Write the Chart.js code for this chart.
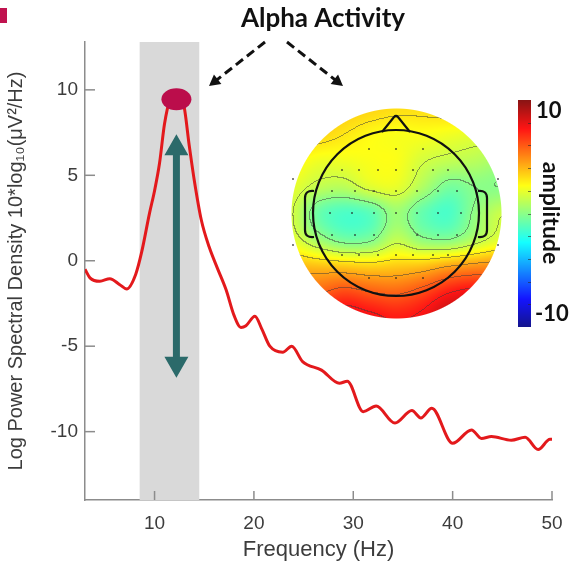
<!DOCTYPE html>
<html>
<head>
<meta charset="utf-8">
<script src="https://cdn.jsdelivr.net/npm/chart.js@4.4.0/dist/chart.umd.min.js"></script>
<style>
  html, body { margin: 0; padding: 0; background: #fff; }
  canvas { display: block; }
</style>
</head>
<body>
<canvas id="psdChart" width="572" height="563"></canvas>
<script>
// spectrum
const freqHz = [3, 3.5, 4.5, 5.5, 6.5, 7.2, 8.1, 8.7, 9.5, 10, 10.5, 11, 11.5, 12.2, 12.9, 13.5, 14, 14.7,
  15.5, 16.3, 17.2, 18.0, 18.7, 19.2, 20.1, 20.8, 21.6, 22.9, 23.8, 24.9, 26.8, 28.6, 29.4, 31.0, 32.3,
  34.2, 35.9, 36.8, 37.9, 40.0, 41.9, 42.9, 43.9, 45.9, 47.3, 48.6, 49.8, 50];
const powerDb = [-0.5, -1.0, -1.2, -1.05, -1.4, -1.65, -0.8, 0.5, 2.8, 4.1, 5.7, 8.0, 9.3, 9.6, 9.2, 6.7, 4.7, 2.4,
  0.8, -0.4, -1.7, -3.2, -3.9, -3.8, -3.25, -4.0, -5.0, -5.35, -5.0, -5.9, -6.4, -7.17, -7.05, -8.83, -8.5,
  -9.5, -8.77, -9.2, -8.63, -10.68, -9.9, -10.4, -10.29, -10.5, -10.33, -11.05, -10.45, -10.45];

const xTickLabels = [10, 20, 30, 40, 50];
const yTickLabels = [-10, -5, 0, 5, 10];

const alphaBand = [8.5, 14.5];     // Hz
const alphaPeak = [12.2, 9.45];    // Hz, dB
const alphaSpan = [7.4, -6.85];    // dB, ends of the double arrow

// scalp amplitude, 9x9 grid over the head disk, front row first
const topoGrid = [
  [3.8, 3.8, 3.6, 3.4, 3.2, 3.2, 3.4, 3.6, 3.6],
  [3.6, 3.4, 3.0, 2.6, 2.4, 2.4, 2.2, 2.0, 2.0],
  [2.8, 2.2, 2.2, 2.4, 2.4, 1.6, 1.2, 1.0, 0.6],
  [2.0, 1.2, 1.0, 1.8, 2.0, 0.8, -0.4, 0.0, 0.0],
  [1.6, -0.6, -1.3, -1.0, 0.4, -0.8, -1.3, 0.2, 1.4],
  [2.0, 0.6, -0.4, -0.2, 1.2, 0.2, 0.0, 1.0, 2.0],
  [4.0, 3.8, 3.6, 3.4, 3.6, 3.8, 4.4, 4.8, 5.0],
  [5.6, 5.8, 6.4, 6.0, 5.8, 6.4, 7.4, 7.8, 7.2],
  [7.0, 7.6, 8.2, 7.8, 7.4, 7.8, 9.0, 9.0, 8.4]
];
const colorbarRange = [-10, 10];

// electrode marks, in head radii from the centre
const electrodes = [
  [-0.33, -0.77], [0, -0.77], [0.32, -0.77],
  [-0.65, -0.52], [-0.44, -0.52], [-0.22, -0.52], [0, -0.52], [0.21, -0.52], [0.44, -0.52], [0.63, -0.52],
  [-0.77, -0.26], [-0.5, -0.26], [-0.26, -0.26], [0, -0.26], [0.25, -0.26], [0.5, -0.26], [0.74, -0.26],
  [-0.79, 0], [-0.53, 0], [-0.27, 0], [0, 0], [0.25, 0], [0.51, 0], [0.78, 0],
  [-0.77, 0.27], [-0.5, 0.27], [-0.26, 0.27], [0.25, 0.27], [0.5, 0.27], [0.74, 0.27],
  [-0.65, 0.51], [-0.44, 0.51], [-0.22, 0.51], [0, 0.51], [0.21, 0.51], [0.44, 0.51], [0.63, 0.51],
  [-0.33, 0.78], [0, 0.78], [0.32, 0.78],
  [-1.24, -0.41], [1.23, -0.41], [-1.24, 0.39], [1.23, 0.39]
];

const FONT = "'Liberation Sans', Arial, sans-serif";
const BOLD = "Lato, 'Open Sans', sans-serif";

function jet(t) {
  t = Math.max(0, Math.min(1, t));
  const ch = k => Math.max(0, Math.min(1, 1.5 - Math.abs(4 * t - k)));
  const soft = c => Math.round(c * 255 * 0.92 + 255 * 0.08);
  return [soft(ch(3)), soft(ch(2)), soft(ch(1))];
}

function catmull(p0, p1, p2, p3, t) {
  return 0.5 * (2 * p1 + (p2 - p0) * t + (2 * p0 - 5 * p1 + 4 * p2 - p3) * t * t + (3 * p1 - p0 - 3 * p2 + p3) * t * t * t);
}

function gridAt(r, c) {
  const n = topoGrid.length - 1;
  r = Math.max(0, Math.min(n, r));
  c = Math.max(0, Math.min(n, c));
  return topoGrid[r][c];
}

function sampleTopo(u, v) {
  const c = Math.floor(u), r = Math.floor(v);
  const tx = u - c, ty = v - r;
  const rows = [-1, 0, 1, 2].map(dr =>
    catmull(gridAt(r + dr, c - 1), gridAt(r + dr, c), gridAt(r + dr, c + 1), gridAt(r + dr, c + 2), tx));
  return catmull(rows[0], rows[1], rows[2], rows[3], ty);
}

function drawTopo(ctx) {
  const cx = 396, cy = 213, R = 105, headR = 83;
  const size = 2 * R + 2;
  const off = document.createElement('canvas');
  off.width = size; off.height = size;
  const octx = off.getContext('2d');
  const img = octx.createImageData(size, size);
  const n = topoGrid.length - 1;
  const vals = new Float32Array(size * size);
  for (let j = 0; j < size; j++) {
    for (let i = 0; i < size; i++) {
      const u = (i - 1) / (2 * R) * n, v = (j - 1) / (2 * R) * n;
      vals[j * size + i] = sampleTopo(u, v);
    }
  }
  const step = 1.5;
  for (let j = 0; j < size; j++) {
    for (let i = 0; i < size; i++) {
      const k = j * size + i;
      const val = vals[k];
      let [r, g, b] = jet((val - colorbarRange[0]) / (colorbarRange[1] - colorbarRange[0]));
      const lv = Math.floor(val / step);
      const edge = (i < size - 1 && Math.floor(vals[k + 1] / step) !== lv) ||
                   (j < size - 1 && Math.floor(vals[k + size] / step) !== lv);
      if (edge) { r = r * 0.5 + 30; g = g * 0.5 + 30; b = b * 0.5 + 30; }
      const d = Math.hypot(i - 1 - R, j - 1 - R);
      const a = Math.max(0, Math.min(1, R - d + 0.5));
      img.data[k * 4] = r; img.data[k * 4 + 1] = g; img.data[k * 4 + 2] = b;
      img.data[k * 4 + 3] = Math.round(a * 255);
    }
  }
  octx.putImageData(img, 0, 0);
  ctx.drawImage(off, cx - R - 1, cy - R - 1);

  ctx.save();
  ctx.strokeStyle = '#111';
  ctx.lineWidth = 2.2;
  // head
  ctx.beginPath();
  ctx.arc(cx, cy, headR, 0, Math.PI * 2);
  ctx.stroke();
  // nose
  ctx.beginPath();
  ctx.moveTo(cx - 14, cy - headR + 2);
  ctx.lineTo(cx - 2, cy - headR - 13);
  ctx.quadraticCurveTo(cx, cy - headR - 15, cx + 2, cy - headR - 13);
  ctx.lineTo(cx + 14, cy - headR + 2);
  ctx.stroke();
  // ears
  [[-1, 305], [1, 478]].forEach(([side, x0]) => {
    ctx.beginPath();
    if (side < 0) {
      ctx.moveTo(x0 + 9, 191);
      ctx.quadraticCurveTo(x0, 190, x0, 198);
      ctx.lineTo(x0, 230);
      ctx.quadraticCurveTo(x0, 238, x0 + 9, 237);
    } else {
      ctx.moveTo(x0, 191);
      ctx.quadraticCurveTo(x0 + 9, 190, x0 + 9, 198);
      ctx.lineTo(x0 + 9, 230);
      ctx.quadraticCurveTo(x0 + 9, 238, x0, 237);
    }
    ctx.stroke();
  });
  ctx.fillStyle = '#222';
  electrodes.forEach(([ex, ey]) => {
    ctx.fillRect(Math.round(cx + ex * headR) - 0.75, Math.round(cy + ey * headR) - 0.75, 1.5, 1.5);
  });
  ctx.restore();
}

function drawColorbar(ctx) {
  const x0 = 518, w = 13, top = 100, bottom = 327;
  for (let y = top; y < bottom; y++) {
    const [r, g, b] = jet(1 - (y - top) / (bottom - top));
    ctx.fillStyle = `rgb(${r},${g},${b})`;
    ctx.fillRect(x0, y, w, 1);
  }
  ctx.strokeStyle = 'rgba(40,40,40,0.6)';
  ctx.lineWidth = 1;
  for (let v = -8; v <= 8; v += 2) {
    const y = bottom - (v - colorbarRange[0]) / (colorbarRange[1] - colorbarRange[0]) * (bottom - top);
    ctx.beginPath();
    ctx.moveTo(x0 + w - 3, Math.round(y) + 0.5);
    ctx.lineTo(x0 + w, Math.round(y) + 0.5);
    ctx.stroke();
  }
  ctx.fillStyle = '#111';
  ctx.font = `bold 22px ${BOLD}`;
  ctx.textAlign = 'left';
  ctx.textBaseline = 'alphabetic';
  ctx.fillText(String(colorbarRange[1]), 536, 118);
  ctx.fillText(String(colorbarRange[0]), 535, 321);
  ctx.save();
  ctx.translate(543, 213);
  ctx.rotate(Math.PI / 2);
  ctx.font = `bold 23px ${BOLD}`;
  ctx.textAlign = 'center';
  ctx.textBaseline = 'alphabetic';
  ctx.fillText('amplitude', 0, 0);
  ctx.restore();
}

function dashedArrow(ctx, x1, y1, x2, y2) {
  const ang = Math.atan2(y2 - y1, x2 - x1);
  const head = 11;
  ctx.save();
  ctx.strokeStyle = '#111';
  ctx.fillStyle = '#111';
  ctx.lineWidth = 3;
  ctx.setLineDash([9, 5]);
  ctx.beginPath();
  ctx.moveTo(x1, y1);
  ctx.lineTo(x2 - Math.cos(ang) * head * 0.8, y2 - Math.sin(ang) * head * 0.8);
  ctx.stroke();
  ctx.setLineDash([]);
  ctx.beginPath();
  ctx.moveTo(x2, y2);
  ctx.lineTo(x2 - Math.cos(ang) * head + Math.sin(ang) * 6, y2 - Math.sin(ang) * head - Math.cos(ang) * 6);
  ctx.lineTo(x2 - Math.cos(ang) * head - Math.sin(ang) * 6, y2 - Math.sin(ang) * head + Math.cos(ang) * 6);
  ctx.closePath();
  ctx.fill();
  ctx.restore();
}

const bandPlugin = {
  id: 'alphaBand',
  beforeDatasetsDraw(chart) {
    const { ctx, chartArea, scales: { x } } = chart;
    const l = x.getPixelForValue(alphaBand[0]), r = x.getPixelForValue(alphaBand[1]);
    ctx.save();
    ctx.fillStyle = '#d9d9d9';
    ctx.fillRect(l, chartArea.top, r - l, chartArea.bottom - chartArea.top);
    ctx.restore();
  },
  afterDatasetsDraw(chart) {
    const { ctx, scales: { x, y } } = chart;
    const px = x.getPixelForValue(alphaPeak[0]);
    ctx.save();
    // peak marker
    ctx.fillStyle = '#bb0d4b';
    ctx.beginPath();
    ctx.ellipse(px, y.getPixelForValue(alphaPeak[1]), 15, 11, 0, 0, Math.PI * 2);
    ctx.fill();
    // double arrow
    const top = y.getPixelForValue(alphaSpan[0]), bot = y.getPixelForValue(alphaSpan[1]);
    const hw = 12, hl = 21, sw = 3.5;
    ctx.fillStyle = '#2b6a6a';
    ctx.beginPath();
    ctx.moveTo(px, top);
    ctx.lineTo(px + hw, top + hl);
    ctx.lineTo(px + sw, top + hl);
    ctx.lineTo(px + sw, bot - hl);
    ctx.lineTo(px + hw, bot - hl);
    ctx.lineTo(px, bot);
    ctx.lineTo(px - hw, bot - hl);
    ctx.lineTo(px - sw, bot - hl);
    ctx.lineTo(px - sw, top + hl);
    ctx.lineTo(px - hw, top + hl);
    ctx.closePath();
    ctx.fill();
    ctx.restore();
  },
  afterDraw(chart) {
    const { ctx, chartArea, scales: { x, y } } = chart;
    ctx.save();
    // inward tick marks
    ctx.strokeStyle = '#8c8c8c';
    ctx.lineWidth = 1.5;
    x.ticks.forEach(t => {
      const p = x.getPixelForValue(t.value);
      ctx.beginPath();
      ctx.moveTo(p, chartArea.bottom);
      ctx.lineTo(p, chartArea.bottom - 9);
      ctx.stroke();
    });
    y.ticks.forEach(t => {
      const p = y.getPixelForValue(t.value);
      ctx.beginPath();
      ctx.moveTo(chartArea.left, p);
      ctx.lineTo(chartArea.left + 10, p);
      ctx.stroke();
    });
    ctx.restore();

    drawTopo(ctx);
    drawColorbar(ctx);

    ctx.save();
    ctx.fillStyle = '#c0134f';
    ctx.fillRect(0, 8, 7, 15);
    ctx.fillStyle = '#111';
    ctx.font = `bold 26px ${BOLD}`;
    ctx.textAlign = 'center';
    ctx.textBaseline = 'alphabetic';
    ctx.fillText('Alpha Activity', 323, 27);
    ctx.restore();
    dashedArrow(ctx, 265, 42, 209, 86);
    dashedArrow(ctx, 287, 42, 343, 86);
  }
};

new Chart(document.getElementById('psdChart'), {
  type: 'line',
  data: {
    datasets: [{
      data: freqHz.map((f, i) => ({ x: f, y: powerDb[i] })),
      borderColor: '#e3191c',
      borderWidth: 3,
      pointRadius: 0,
      cubicInterpolationMode: 'monotone',
      fill: false
    }]
  },
  options: {
    responsive: false,
    animation: false,
    devicePixelRatio: 1,
    layout: { padding: { left: 0, top: 42, right: 20, bottom: 0 } },
    plugins: { legend: { display: false }, tooltip: { enabled: false } },
    scales: {
      x: {
        type: 'linear',
        min: 3,
        max: 50,
        afterBuildTicks: ax => { ax.ticks = xTickLabels.map(v => ({ value: v })); },
        afterFit: ax => { ax.height = 63; ax.paddingLeft = 0; ax.paddingRight = 0; },
        grid: { display: false, drawTicks: false },
        border: { color: '#8c8c8c', width: 1.5 },
        ticks: { font: { family: FONT, size: 19 }, color: '#3c3c3c', padding: 12, maxRotation: 0 },
        title: {
          display: true, text: 'Frequency (Hz)', color: '#3c3c3c',
          font: { family: FONT, size: 22 }, padding: { top: 0, bottom: 0 }
        }
      },
      y: {
        min: -14,
        max: 12.8,
        afterBuildTicks: ax => { ax.ticks = yTickLabels.map(v => ({ value: v })); },
        afterFit: ax => { ax.width = 85; ax.paddingTop = 0; ax.paddingBottom = 0; },
        grid: { display: false, drawTicks: false },
        border: { color: '#8c8c8c', width: 1.5 },
        ticks: { font: { family: FONT, size: 19 }, color: '#3c3c3c', padding: 7 },
        title: {
          display: true, text: 'Log Power Spectral Density 10*log₁₀(μV²/Hz)', color: '#3c3c3c',
          font: { family: FONT, size: 20 }, padding: { top: 4, bottom: 0 }
        }
      }
    }
  },
  plugins: [bandPlugin]
});
</script>
</body>
</html>
